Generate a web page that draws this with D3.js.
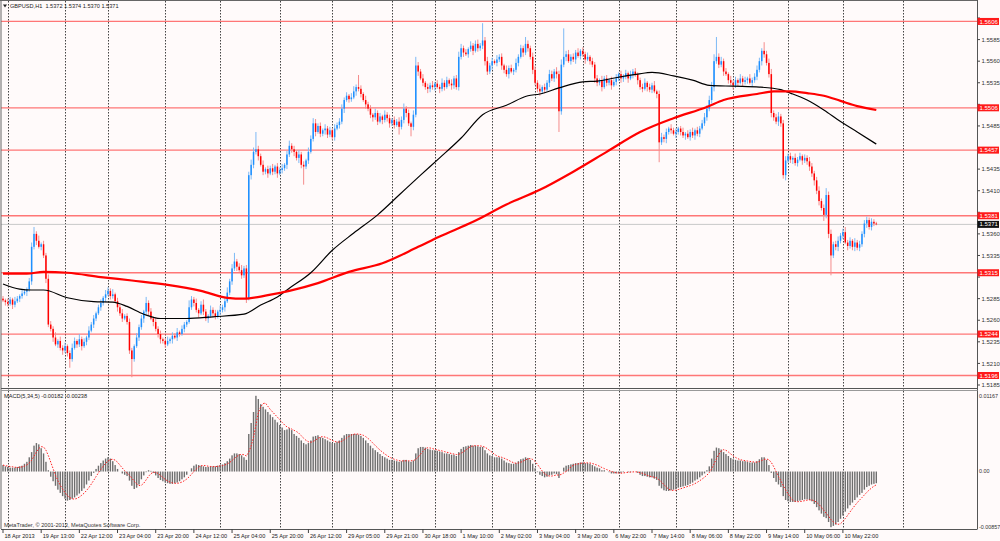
<!DOCTYPE html>
<html>
<head>
<meta charset="utf-8">
<script src="https://cdn.jsdelivr.net/npm/d3@7"></script>
<style>
body { margin: 0; background: #fffafa; }
text { font-family: "Liberation Sans", Arial, sans-serif; }
</style>
</head>
<body>
<svg id="chart" width="1000" height="541"></svg>
<script>
// prices are in pips above 1.5000 (283 -> 1.5283), one value per H1 bar
const firstOpen = 285;
const closes = [
  283,281,279,284,278,282,285,288,291,293, 296,305,345,360,352,345,348,335,308,255,
  250,240,232,236,228,225,230,222,215,228, 236,232,238,230,235,240,248,255,262,268,
  275,280,286,290,294,288,290,282,275,268, 262,265,258,225,215,230,240,252,262,270,
  280,270,262,258,250,244,238,236,232,236, 238,242,240,246,244,250,255,258,275,284,
  280,272,268,278,270,262,265,272,268,264, 270,272,275,282,292,305,320,328,322,318,
  312,320,285,428,440,455,458,450,440,432, 435,430,436,432,438,430,434,436,440,452,
  462,458,455,448,452,440,438,445,455,470, 488,478,485,476,480,482,475,480,472,482,
  486,490,505,515,520,516,518,525,530,528, 522,515,510,505,498,495,500,490,496,492,
  498,494,488,492,486,490,484,492,505,500, 488,484,498,555,548,540,535,530,528,532,
  530,534,530,528,535,530,538,534,532,540, 530,565,575,570,568,574,578,572,580,575,
  578,584,560,548,555,560,558,562,565,555, 550,545,552,548,550,558,565,575,570,580,
  575,565,550,535,528,525,530,527,535,545, 540,548,545,502,556,565,568,560,565,562,
  570,566,572,568,562,565,560,556,540,535, 538,530,540,535,538,532,536,540,545,540,
  542,546,540,544,548,545,538,530,528,535, 530,527,532,525,522,466,472,470,478,482,
  480,476,478,482,478,474,476,472,478,474, 480,476,482,488,495,505,515,530,560,565,
  556,560,548,545,538,535,532,538,535,540, 536,538,540,535,538,542,550,560,572,568,
  558,545,500,495,490,496,488,428,445,450, 446,448,442,446,450,445,448,444,438,430,
  422,410,398,390,382,405,360,335,348,345, 352,358,362,350,346,352,345,350,344,348,
  360,372,376,368,374,372,371
];
const hiWick = [
  3,2,4,3,2,5,3,2,4,3, 2,4,5,8,3,6,2,4,3,5,
  4,3,6,2,5,3,4,2,3,5, 4,2,6,3,4,2,5,3,4,2,
  3,4,2,5,4,3,6,2,4,3, 5,2,3,4,3,2,5,3,4,2,
  7,3,4,2,5,3,4,2,3,5, 2,4,3,5,2,4,3,2,8,4,
  3,5,2,4,6,3,2,5,3,4, 2,5,3,4,6,3,5,10,3,4,
  6,3,4,4,6,5,20,4,3,5, 2,4,3,5,2,4,3,5,2,4,
  6,3,4,2,5,3,4,2,5,4, 6,5,3,4,2,5,3,4,2,5,
  3,4,5,3,4,2,5,6,3,14, 4,2,5,3,4,2,5,3,4,2,
  5,3,4,2,4,3,5,4,6,3, 4,2,5,10,4,3,5,2,4,3,
  5,2,4,3,5,3,4,2,5,3, 4,6,5,3,4,2,5,3,4,5,
  3,20,4,5,3,4,2,5,3,4, 2,5,3,4,2,5,3,4,3,8,
  4,3,5,4,3,5,2,4,3,5, 4,3,5,4,6,33,4,5,3,4,
  3,5,2,4,3,5,2,4,3,4, 2,5,3,4,2,4,3,5,2,4,
  3,4,2,5,3,4,2,3,4,5, 2,4,3,5,2,4,5,3,4,2,
  5,3,4,2,3,5,2,4,3,5, 2,4,3,4,5,4,5,6,8,23,
  4,5,3,4,2,5,3,4,2,5, 3,4,2,5,3,4,5,4,3,10,
  4,5,6,3,4,5,3,4,5,3, 4,2,5,3,4,2,4,3,5,4,
  3,4,5,3,4,8,4,5,3,4, 5,3,4,6,3,4,2,5,3,4,
  3,4,4,3,4,3,2
];
const loWick = [
  2,4,3,2,5,3,2,4,3,2, 5,3,4,3,5,2,4,3,5,3,
  3,5,2,4,3,5,3,4,10,3, 2,4,3,5,2,4,3,2,4,3,
  2,4,3,5,2,4,3,2,5,3, 4,2,3,4,21,3,2,4,3,5,
  3,4,2,5,3,4,5,3,4,2, 3,5,2,4,3,2,4,3,2,3,
  4,3,5,2,4,3,5,2,4,3, 2,4,3,5,2,3,4,3,5,2,
  4,3,5,2,5,4,3,5,2,4, 3,5,2,4,3,5,2,4,3,5,
  3,4,5,3,6,4,21,3,4,2, 3,5,2,4,3,5,4,3,3,4,
  2,4,3,5,2,4,3,2,5,3, 4,2,5,3,4,5,3,4,2,5,
  3,4,5,3,4,2,9,3,4,5, 3,11,4,3,5,2,4,3,5,4,
  3,4,2,5,3,4,2,3,5,4, 3,4,3,5,2,4,3,5,2,4,
  3,4,5,4,3,5,2,4,3,5, 4,3,5,2,4,3,4,2,5,3,
  4,3,5,3,4,5,3,4,2,5, 3,4,5,24,4,3,5,2,4,3,
  5,2,4,3,5,2,4,3,5,4, 3,5,2,4,3,5,2,4,3,5,
  4,3,5,2,4,3,5,3,4,2, 5,3,4,2,5,23,3,4,5,3,
  4,2,5,3,4,3,5,2,4,3, 5,3,4,2,3,4,3,4,5,3,
  4,3,5,2,4,3,5,3,4,2, 5,3,4,2,5,3,4,3,5,4,
  3,4,5,4,3,5,4,4,6,3, 4,5,3,4,2,5,3,4,5,4,
  6,4,5,3,7,4,5,23,3,4, 5,3,4,2,5,3,4,5,3,4,
  3,4,5,3,4,3,1
];

// MACD(5,34,5) histogram, in units of 0.0001
const macdHist = [
  10,8,7,6,6,6,7,8,9,12, 15,22,30,40,44,42,36,28,15,2,
  -8,-15,-22,-28,-33,-38,-42,-45,-44,-42, -40,-37,-34,-30,-26,-20,-14,-7,-2,4,
  9,13,17,20,22,20,16,10,4,0, -3,-5,-7,-14,-22,-27,-25,-20,-12,-6,
  -1,2,1,-2,-6,-10,-13,-15,-17,-18, -19,-19,-18,-17,-15,-12,-9,-5,0,5,
  9,11,10,9,8,7,7,8,8,8, 9,10,11,13,16,20,25,28,28,27,
  25,22,18,58,75,92,117,112,104,100, 96,92,88,84,80,76,72,68,64,65,
  67,64,58,55,52,48,44,42,44,48, 54,55,56,53,52,50,48,46,44,44,
  46,48,52,56,58,58,58,58,58,57, 55,52,48,44,40,36,33,30,27,24,
  22,20,18,18,17,16,15,16,18,18, 16,15,17,28,36,38,38,37,35,34,
  33,33,32,31,30,28,28,27,26,26, 24,30,35,38,39,40,41,40,40,39,
  38,38,33,28,25,24,22,22,22,20, 17,14,13,12,12,13,16,19,20,22,
  21,18,12,5,-1,-5,-7,-9,-8,-6, -5,-3,-4,-10,0,6,9,10,11,12,
  13,13,14,14,13,13,12,10,8,6, 5,2,2,0,-1,-3,-3,-3,-2,-2,
  -1,0,-1,-1,0,0,-2,-5,-7,-7, -8,-9,-9,-11,-13,-22,-26,-29,-30,-30,
  -29,-28,-27,-25,-24,-23,-22,-21,-19,-17, -14,-12,-9,-6,-3,2,8,20,32,37,
  36,34,30,27,24,21,19,18,17,17, 16,16,15,14,14,14,16,19,22,22,
  18,10,-2,-10,-16,-20,-24,-38,-44,-46, -47,-47,-47,-46,-45,-44,-43,-43,-44,-46,
  -50,-55,-60,-65,-70,-72,-78,-86,-84,-82, -78,-73,-68,-62,-57,-52,-48,-44,-40,-36,
  -33,-28,-24,-22,-20,-19,-18
];

// moving averages (bar index, pips)
const blackMaBars = [0,7,12,17,27,38,46,52,59,66,77,88,101,108,115,120,129,138,147,157,166,175,183,192,201,211,220,225,233,243,249,259,266,272,281,289,296,306,317,326,330,337,344,351,358,366];
const blackMaVals = [302,296,295,295,286,281.5,281,276,267,262,262,264,267,277.6,287,297,315,341,361,382,405,428,448,471,498,509,520,522,529,536,537,542,545,547,543,538,532,531,530,527,523,515,503.5,490,478,464];
const redMaBars = [0,10,17,27,41,54,69,83,94,101,111,120,132,145,159,174,183,197,211,225,239,253,267,281,295,302,316,323,330,337,344,351,358,366];
const redMaVals = [314,314,316,315,310,306,301,294,286,285,289,294,303,316,326,345,357,374,394,411,432,455,478,494,507,515,522,525,525,523,520,514,508,503.5];

const levels = [1.5606, 1.5506, 1.5457, 1.5381, 1.5315, 1.5244, 1.5196];
const lastPrice = 1.5371;
const priceTicks = [1.5610,1.5585,1.5560,1.5535,1.5510,1.5485,1.5460,1.5435,1.5410,1.5385,1.5360,1.5335,1.5310,1.5285,1.5260,1.5235,1.5210,1.5185];
const macdTicks = [0.01167, 0, -0.00857];
const macdTickLabels = ["0.01167", "0.00", "-0.00857"];
const timeBars = [0,16,32,48,64,80,96,112,128,144,160,176,192,208,224,240,256,272,288,304,320,336,352];
const timeLabels = ["18 Apr 2013","19 Apr 13:00","22 Apr 12:00","23 Apr 04:00","23 Apr 20:00","24 Apr 12:00","25 Apr 04:00","25 Apr 20:00","26 Apr 12:00","29 Apr 05:00","29 Apr 21:00","30 Apr 18:00","1 May 10:00","2 May 02:00","3 May 04:00","3 May 20:00","6 May 22:00","7 May 14:00","8 May 06:00","8 May 22:00","9 May 14:00","10 May 06:00","10 May 22:00"];
const dayBars = [2,26,44,68,91,116,138,163,181,205,223,243,258,282,306,329,352,377];

const svg = d3.select("#chart");
const axisX = 977.5;
const x = d3.scaleLinear().domain([0, 366]).range([3, 876.3]);
const y = d3.scaleLinear().domain([1.5185, 1.5610]).range([385, 18]);
const ym = d3.scaleLinear().domain([macdTicks[2], macdTicks[0]]).range([527, 396]);
const px = v => y(1.5 + v / 10000);

svg.append("rect").attr("width", 1000).attr("height", 541).attr("fill", "#fffafa");

const defs = svg.append("defs");
defs.append("clipPath").attr("id", "mainClip")
  .append("rect").attr("x", 1).attr("y", 1).attr("width", axisX - 1).attr("height", 387);
defs.append("clipPath").attr("id", "macdClip")
  .append("rect").attr("x", 1).attr("y", 392).attr("width", axisX - 1).attr("height", 137);

// day separators
svg.append("g").selectAll("line").data(dayBars).enter().append("line")
  .attr("x1", d => Math.round(x(d)) + 0.5).attr("x2", d => Math.round(x(d)) + 0.5)
  .attr("y1", 1).attr("y2", 529)
  .attr("stroke", "#444").attr("stroke-width", 1).attr("stroke-dasharray", "1.5,1.5");

const main = svg.append("g").attr("clip-path", "url(#mainClip)");

main.selectAll("line.level").data(levels).enter().append("line")
  .attr("class", "level")
  .attr("x1", 1).attr("x2", axisX)
  .attr("y1", d => y(d)).attr("y2", d => y(d))
  .attr("stroke", "#ff4a4a").attr("stroke-opacity", 0.75).attr("stroke-width", 1.3);

main.append("line")
  .attr("x1", 1).attr("x2", axisX).attr("y1", y(lastPrice)).attr("y2", y(lastPrice))
  .attr("stroke", "#c8c8c8").attr("stroke-width", 1);

const bars = closes.map((c, i) => {
  const o = i === 0 ? firstOpen : closes[i - 1];
  return { i, o, c, up: c >= o, h: Math.max(o, c) + hiWick[i], l: Math.min(o, c) - loWick[i] };
});

main.append("g").selectAll("line").data(bars).enter().append("line")
  .attr("x1", d => x(d.i)).attr("x2", d => x(d.i))
  .attr("y1", d => px(d.h)).attr("y2", d => px(d.l))
  .attr("stroke", d => d.up ? "#7db9f5" : "#f58c8c").attr("stroke-width", 1);

main.append("g").selectAll("rect").data(bars).enter().append("rect")
  .attr("x", d => x(d.i) - 0.75).attr("width", 1.5)
  .attr("y", d => px(Math.max(d.o, d.c)))
  .attr("height", d => Math.max(0.8, Math.abs(px(d.o) - px(d.c))))
  .attr("fill", d => d.up ? "#1e90ff" : "#ff0000");

const maLine = d3.line().x(d => x(d[0])).y(d => px(d[1])).curve(d3.curveMonotoneX);
main.append("path").datum(blackMaBars.map((b, k) => [b, blackMaVals[k]]))
  .attr("d", maLine).attr("fill", "none").attr("stroke", "#000").attr("stroke-width", 1.2);
main.append("path").datum(redMaBars.map((b, k) => [b, redMaVals[k]]))
  .attr("d", maLine).attr("fill", "none").attr("stroke", "#f00").attr("stroke-width", 2.2);

// MACD pane
const macd = svg.append("g").attr("clip-path", "url(#macdClip)");
macd.append("g").selectAll("rect").data(macdHist).enter().append("rect")
  .attr("x", (d, i) => x(i) - 0.7).attr("width", 1.4)
  .attr("y", d => ym(Math.max(0, d / 10000)))
  .attr("height", d => Math.abs(ym(d / 10000) - ym(0)))
  .attr("fill", "#6e6e6e");

const signal = macdHist.map((d, i) => [i, d3.mean(macdHist.slice(Math.max(0, i - 4), i + 1))]);
macd.append("path").datum(signal)
  .attr("d", d3.line().x(d => x(d[0])).y(d => ym(d[1] / 10000)))
  .attr("fill", "none").attr("stroke", "#ff2020").attr("stroke-width", 1)
  .attr("stroke-dasharray", "1.5,1.5");

// frame
svg.append("line").attr("x1", 1).attr("x2", 1).attr("y1", 0).attr("y2", 529).attr("stroke", "#666");
svg.append("line").attr("x1", 0).attr("x2", axisX).attr("y1", 0.5).attr("y2", 0.5).attr("stroke", "#666");
svg.append("line").attr("x1", axisX).attr("x2", axisX).attr("y1", 0).attr("y2", 529).attr("stroke", "#555");
svg.append("line").attr("x1", 1).attr("x2", axisX).attr("y1", 529.5).attr("y2", 529.5).attr("stroke", "#555");
svg.append("line").attr("x1", 1).attr("x2", axisX).attr("y1", 388.5).attr("y2", 388.5).attr("stroke", "#555");
svg.append("line").attr("x1", 1).attr("x2", axisX).attr("y1", 390.5).attr("y2", 390.5).attr("stroke", "#999");

// price axis: ticks hidden behind a level tag are left out, the tag covers them
const tagPrices = levels.concat([lastPrice]);
const freeTicks = priceTicks.filter(t => tagPrices.every(p => Math.abs(y(t) - y(p)) > 6.5));
const ax = svg.append("g");
ax.selectAll("line").data(priceTicks).enter().append("line")
  .attr("x1", axisX).attr("x2", axisX + 2.5).attr("y1", d => y(d)).attr("y2", d => y(d))
  .attr("stroke", "#444");
ax.selectAll("text").data(freeTicks).enter().append("text")
  .attr("x", axisX + 4).attr("y", d => y(d)).attr("dy", "0.35em")
  .attr("font-size", 6).attr("fill", "#333").text(d => d.toFixed(4));

const tags = svg.append("g").selectAll("g").data(levels.map(v => [v, "#ff1a1a"]).concat([[lastPrice, "#111"]]))
  .enter().append("g");
tags.append("rect").attr("x", axisX).attr("y", d => y(d[0]) - 3.5).attr("width", 21.5).attr("height", 7)
  .attr("fill", d => d[1]);
tags.append("text").attr("x", axisX + 2).attr("y", d => y(d[0])).attr("dy", "0.35em")
  .attr("font-size", 6).attr("fill", "#fff").text(d => d[0].toFixed(4));

svg.append("g").selectAll("text").data(macdTicks).enter().append("text")
  .attr("x", axisX + 1.5).attr("y", d => ym(d)).attr("dy", "0.35em")
  .attr("font-size", 5.4).attr("fill", "#333").text((d, i) => macdTickLabels[i]);

// time axis
const tx = svg.append("g");
tx.selectAll("line").data(timeBars).enter().append("line")
  .attr("x1", d => x(d)).attr("x2", d => x(d)).attr("y1", 529).attr("y2", 533)
  .attr("stroke", "#444");
tx.selectAll("text").data(timeBars).enter().append("text")
  .attr("x", d => x(d) + 1.5).attr("y", 536).attr("dy", "0.35em")
  .attr("font-size", 5.6).attr("fill", "#222").text((d, i) => timeLabels[i]);

// captions
svg.append("path").attr("d", "M3,4.5 L7,4.5 L5,7.5 Z").attr("fill", "#222");
svg.append("text").attr("x", 10).attr("y", 6).attr("dy", "0.35em").attr("font-size", 5.6).attr("fill", "#222")
  .attr("xml:space", "preserve").text("GBPUSD,H1  1.5372 1.5374 1.5370 1.5371");
svg.append("text").attr("x", 4).attr("y", 396).attr("dy", "0.35em").attr("font-size", 5.6).attr("fill", "#222")
  .text("MACD(5,34,5) -0.00182 -0.00238");
svg.append("text").attr("x", 4).attr("y", 525).attr("dy", "0.35em").attr("font-size", 5.6).attr("fill", "#333")
  .text("MetaTrader, © 2001-2013, MetaQuotes Software Corp.");
</script>
</body>
</html>
